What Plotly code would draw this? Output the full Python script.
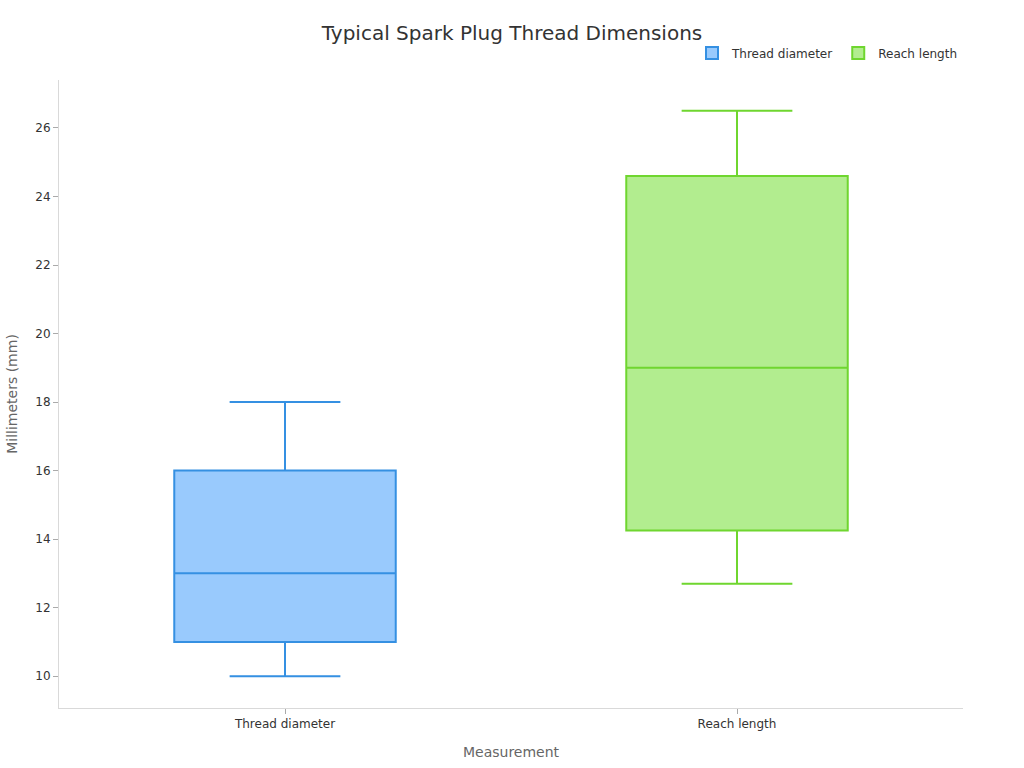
import plotly.graph_objects as go

# Box statistics (mm)
categories = ["Thread diameter", "Reach length"]
lower_fences = [10.0, 12.7]
q1_values = [11.0, 14.25]
medians = [13.0, 19.0]
q3_values = [16.0, 24.6]
upper_fences = [18.0, 26.5]

line_colors = ["#3590E2", "#6FD62F"]
fill_colors = ["#99CAFD", "#B2ED8F"]

fig = go.Figure()

for i, cat in enumerate(categories):
    fig.add_trace(go.Box(
        name=cat,
        x=[cat],
        q1=[q1_values[i]],
        median=[medians[i]],
        q3=[q3_values[i]],
        lowerfence=[lower_fences[i]],
        upperfence=[upper_fences[i]],
        line=dict(color=line_colors[i], width=2),
        fillcolor=fill_colors[i],
        width=0.49,
        whiskerwidth=0.5,
        boxpoints=False,
    ))

fig.update_layout(
    width=1024,
    height=768,
    paper_bgcolor="white",
    plot_bgcolor="white",
    font=dict(family="DejaVu Sans", color="#333333", size=12),
    title=dict(text="Typical Spark Plug Thread Dimensions", x=0.5, xanchor="center",
               y=0.957, yanchor="middle", font=dict(size=20, color="#333333")),
    margin=dict(l=59, r=61, t=80, b=60),
    boxmode="overlay",
    showlegend=True,
    legend=dict(orientation="h", x=1, xanchor="right", y=1.043, yanchor="middle",
                font=dict(size=12, color="#333333")),
    xaxis=dict(
        title=dict(text="Measurement", font=dict(size=14, color="#666666"), standoff=16),
        automargin=False,
        range=[-0.5, 1.5],
        showline=True, linecolor="#d9d9d9", linewidth=1,
        ticks="outside", ticklen=5, tickcolor="#aaaaaa",
        showgrid=False, zeroline=False,
        categoryorder="array", categoryarray=categories,
    ),
    yaxis=dict(
        title=dict(text="Millimeters (mm)", font=dict(size=14, color="#666666"), standoff=14),
        automargin=False,
        range=[9.07, 27.4],
        tickvals=[10, 12, 14, 16, 18, 20, 22, 24, 26],
        showline=True, linecolor="#d9d9d9", linewidth=1,
        ticks="outside", ticklen=5, tickcolor="#aaaaaa",
        showgrid=False, zeroline=False,
    ),
)

fig.write_html("out.html", config={"displayModeBar": False},
               post_script="document.body.style.margin='0';")
